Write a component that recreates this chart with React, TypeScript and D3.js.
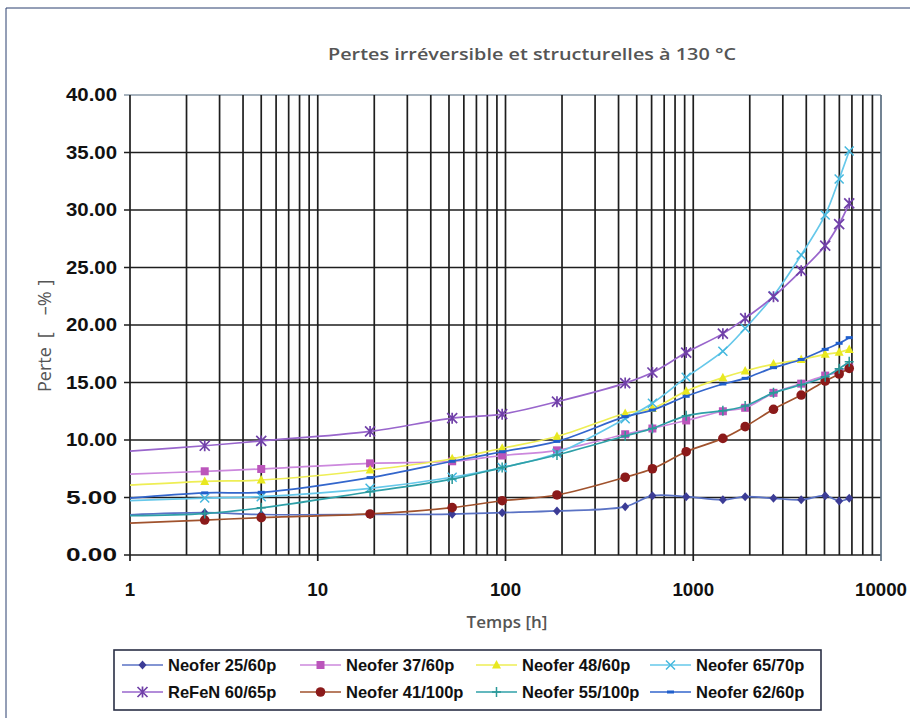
import React from "react";
import * as d3 from "d3";

const times = [1, 2.5, 5, 19, 52, 96, 188, 434, 606, 917, 1438, 1890, 2675, 3758, 5044, 5985, 6772];

const neofer25_60 = [3.5, 3.68, 3.52, 3.52, 3.55, 3.68, 3.83, 4.2, 5.16, 5.07, 4.8, 5.07, 4.93, 4.8, 5.16, 4.7, 4.93];
const neofer37_60 = [7.04, 7.28, 7.48, 7.97, 8.15, 8.65, 9.1, 10.5, 11.0, 11.7, 12.5, 12.8, 14.1, 14.9, 15.6, 15.9, 16.3];
const neofer48_60 = [6.07, 6.4, 6.52, 7.39, 8.37, 9.28, 10.3, 12.3, 12.75, 14.25, 15.42, 16.0, 16.6, 17.0, 17.45, 17.62, 17.88];
const neofer65_70 = [4.72, 4.95, 5.07, 5.8, 6.76, 7.6, 8.85, 11.85, 13.2, 15.45, 17.72, 19.71, 22.55, 26.09, 29.57, 32.7, 35.13];
const refen60_65 = [9.04, 9.5, 9.92, 10.75, 11.9, 12.25, 13.33, 14.95, 15.87, 17.6, 19.25, 20.58, 22.46, 24.72, 26.9, 28.78, 30.58];
const neofer41_100 = [2.78, 3.04, 3.25, 3.57, 4.12, 4.72, 5.22, 6.76, 7.5, 8.98, 10.14, 11.16, 12.67, 13.91, 15.13, 15.74, 16.23];
const neofer55_100 = [3.42, 3.6, 4.1, 5.5, 6.6, 7.6, 8.7, 10.35, 11.0, 12.1, 12.55, 12.96, 14.1, 14.8, 15.5, 16.2, 16.8];
const neofer62_60 = [4.95, 5.4, 5.45, 6.73, 8.15, 8.98, 9.88, 12.03, 12.6, 13.8, 14.87, 15.36, 16.29, 17.0, 17.88, 18.41, 18.9];

const seriesNames = [
  "Neofer 25/60p", "Neofer 37/60p", "Neofer 48/60p", "Neofer 65/70p",
  "ReFeN 60/65p", "Neofer 41/100p", "Neofer 55/100p", "Neofer 62/60p",
];
const seriesValues = [neofer25_60, neofer37_60, neofer48_60, neofer65_70, refen60_65, neofer41_100, neofer55_100, neofer62_60];
const markerTypes = ["diamond", "square", "triangle", "x", "asterisk", "circle", "plus", "dash"];
const lineColors = ["#5a72c4", "#cc88dd", "#eeee55", "#66c8ea", "#9966cc", "#a0522d", "#2fa0a8", "#3366cc"];
const markerColors = ["#3c3c96", "#bb55bb", "#e8e820", "#44b8de", "#7040a8", "#8b1a1a", "#2a9898", "#1f5fcc"];

const yTicks = [0, 5, 10, 15, 20, 25, 30, 35, 40];
const xMajor = [1, 10, 100, 1000, 10000];

const title = "Pertes irréversible et structurelles à 130 °C";
const yTitleParts = ["Perte", "[", "–%", "]"];
const xTitle = "Temps [h]";

function Marker({ type, cx, cy, color }: { type: string; cx: number; cy: number; color: string }) {
  const s = 4;
  switch (type) {
    case "diamond":
      return <path d={`M${cx},${cy - s - 0.5}L${cx + s},${cy}L${cx},${cy + s + 0.5}L${cx - s},${cy}Z`} fill={color} />;
    case "square":
      return <rect x={cx - 4} y={cy - 4} width={8} height={8} fill={color} />;
    case "triangle":
      return <path d={`M${cx},${cy - 5}L${cx + 4.5},${cy + 3.5}L${cx - 4.5},${cy + 3.5}Z`} fill={color} />;
    case "x":
      return <path d={`M${cx - 4.5},${cy - 4.5}L${cx + 4.5},${cy + 4.5}M${cx + 4.5},${cy - 4.5}L${cx - 4.5},${cy + 4.5}`} stroke={color} strokeWidth={1.5} />;
    case "asterisk":
      return <path d={`M${cx - 5},${cy - 5}L${cx + 5},${cy + 5}M${cx + 5},${cy - 5}L${cx - 5},${cy + 5}M${cx},${cy - 5.5}L${cx},${cy + 5.5}`} stroke={color} strokeWidth={1.7} />;
    case "circle":
      return <circle cx={cx} cy={cy} r={4.8} fill={color} />;
    case "plus":
      return <path d={`M${cx - 4.5},${cy}L${cx + 4.5},${cy}M${cx},${cy - 5}L${cx},${cy + 5}`} stroke={color} strokeWidth={1.5} />;
    case "dash":
      return <rect x={cx - 3.5} y={cy - 1.5} width={7} height={3} fill={color} />;
    default:
      return null;
  }
}

export default function App() {
  const W = 910, H = 718;
  const left = 130, right = 881, top = 95, bottom = 555;
  const x = d3.scaleLog().domain([1, 10000]).range([left, right]);
  const y = d3.scaleLinear().domain([0, 40]).range([bottom, top]);

  const minorX: number[] = [];
  for (const dec of [1, 10, 100, 1000]) for (let k = 1; k <= 9; k++) minorX.push(dec * k);
  minorX.push(10000);

  const line = d3
    .line<number>()
    .x((_, i) => x(times[i]))
    .y((v) => y(v))
    .curve(d3.curveCatmullRom.alpha(0.5));

  const legendCols = [122, 300, 476, 650];
  const legendRows = [665, 692];
  const yTitleGaps = [0, 9, 17, 6];

  return (
    <svg width={W} height={H} style={{ display: "block", position: "absolute", left: 0, top: 0, background: "#fff" }}>
      <rect x={0} y={0} width={W} height={H} fill="#fff" />
      <line x1={6} y1={8} x2={W} y2={8} stroke="#2a3f6e" strokeWidth={1} />
      <line x1={6} y1={8} x2={6} y2={H} stroke="#2a3f6e" strokeWidth={1} />

      <text x={532} y={60} textAnchor="middle" fontFamily="'Open Sans', sans-serif" fontSize={16.5} fontWeight={600} fill="#555" textLength={408} lengthAdjust="spacingAndGlyphs">{title}</text>

      {/* horizontal grid */}
      {yTicks.map((t) => (
        <g key={"yg" + t}>
          <line x1={left - 6} x2={right} y1={y(t)} y2={y(t)} stroke={t === 40 ? "#8a9aa8" : "#1e1e1e"} strokeWidth={1.7} />
          <text x={117} y={y(t)} dy="0.36em" textAnchor="end" fontFamily="'Liberation Sans', Arial, sans-serif" fontWeight="bold" fontSize={17.5} fill="#111" textLength={51} lengthAdjust="spacingAndGlyphs">{t.toFixed(2)}</text>
        </g>
      ))}
      {/* vertical grid */}
      {minorX.map((t, i) => (
        <line key={"xg" + i} x1={x(t)} x2={x(t)} y1={top} y2={xMajor.includes(t) ? bottom + 6 : bottom} stroke={t === 10000 ? "#5a6e80" : "#1e1e1e"} strokeWidth={1.7} />
      ))}
      {xMajor.map((t) => (
        <text key={"xl" + t} x={x(t)} y={596} textAnchor="middle" fontFamily="'Liberation Sans', Arial, sans-serif" fontWeight="bold" fontSize={17.5} fill="#111" textLength={String(t).length * 10.4} lengthAdjust="spacingAndGlyphs">{t}</text>
      ))}

      <text transform={`translate(51,392) rotate(-90)`} textAnchor="start" fontFamily="'Open Sans', sans-serif" fontSize={18} fontWeight={500} fill="#555">
        {yTitleParts.map((p, i) => (
          <tspan key={i} dx={yTitleGaps[i]}>{p}</tspan>
        ))}
      </text>
      <text x={507} y={628} textAnchor="middle" fontFamily="'Open Sans', sans-serif" fontSize={17} fontWeight={600} fill="#555">{xTitle}</text>

      {/* series */}
      {seriesValues.map((vals, si) => (
        <g key={"s" + si}>
          <path d={line(vals) || ""} fill="none" stroke={lineColors[si]} strokeWidth={1.7} />
          {vals.map((v, i) =>
            i === 0 ? null : <Marker key={i} type={markerTypes[si]} cx={x(times[i])} cy={y(v)} color={markerColors[si]} />
          )}
        </g>
      ))}

      {/* legend */}
      <rect x={114} y={650} width={707} height={60} fill="#fff" stroke="#2a2f45" strokeWidth={1.6} />
      {seriesNames.map((name, i) => {
        const lx = legendCols[i % 4];
        const ly = legendRows[Math.floor(i / 4)];
        return (
          <g key={"lg" + i}>
            <line x1={lx} x2={lx + 41} y1={ly} y2={ly} stroke={lineColors[i]} strokeWidth={1.6} />
            <Marker type={markerTypes[i]} cx={lx + 20.5} cy={ly} color={markerColors[i]} />
            <text x={lx + 46} y={ly} dy="0.36em" fontFamily="'Liberation Sans', Arial, sans-serif" fontWeight="bold" fontSize={16.5} fill="#111">{name}</text>
          </g>
        );
      })}
    </svg>
  );
}
